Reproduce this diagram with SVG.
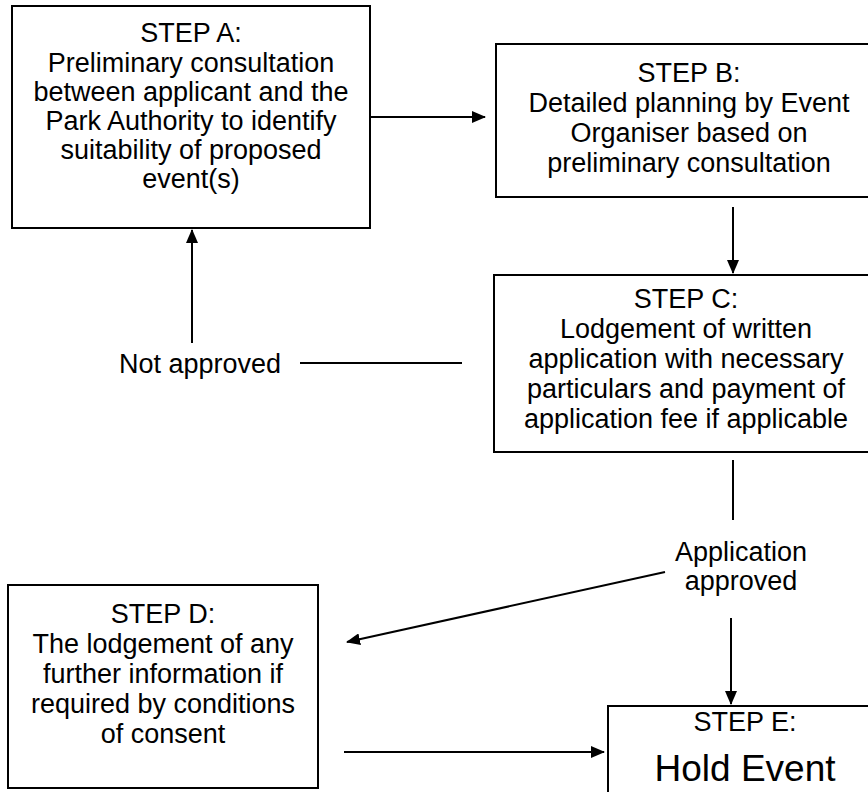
<svg xmlns="http://www.w3.org/2000/svg" width="868" height="792" viewBox="0 0 868 792">
<style>
.box{fill:#fff;stroke:#000;stroke-width:2}
.t{font-family:"Liberation Sans",Arial,sans-serif;font-size:27px;fill:#000;text-anchor:middle}
.big{font-size:37px}
.c{stroke:#000;stroke-width:2;fill:none}
</style>
<defs>
<marker id="ah" markerUnits="userSpaceOnUse" markerWidth="14" markerHeight="12" refX="13" refY="6" orient="auto">
<path d="M0,0 L14,6 L0,12 z" fill="#000"/>
</marker>
</defs>
<rect width="868" height="792" fill="#fff"/>
<g id="stepA">
<rect class="box" x="12" y="6" width="358" height="222"/>
<text class="t" x="191" y="42">STEP A:</text>
<text class="t" x="191" y="72">Preliminary consultation</text>
<text class="t" x="191" y="101">between applicant and the</text>
<text class="t" x="191" y="130">Park Authority to identify</text>
<text class="t" x="191" y="159">suitability of proposed</text>
<text class="t" x="191" y="188">event(s)</text>
</g>
<g id="stepB">
<rect class="box" x="496" y="44" width="390" height="153"/>
<text class="t" x="689" y="82">STEP B:</text>
<text class="t" x="689" y="112">Detailed planning by Event</text>
<text class="t" x="689" y="142">Organiser based on</text>
<text class="t" x="689" y="172">preliminary consultation</text>
</g>
<g id="stepC">
<rect class="box" x="494" y="275" width="392" height="177"/>
<text class="t" x="686" y="308">STEP C:</text>
<text class="t" x="686" y="338">Lodgement of written</text>
<text class="t" x="686" y="368">application with necessary</text>
<text class="t" x="686" y="398">particulars and payment of</text>
<text class="t" x="686" y="428">application fee if applicable</text>
</g>
<g id="stepD">
<rect class="box" x="8" y="585" width="310" height="203"/>
<text class="t" x="163" y="623">STEP D:</text>
<text class="t" x="163" y="653">The lodgement of any</text>
<text class="t" x="163" y="683">further information if</text>
<text class="t" x="163" y="713">required by conditions</text>
<text class="t" x="163" y="743">of consent</text>
</g>
<g id="stepE">
<rect class="box" x="608" y="706" width="280" height="100"/>
<text class="t" x="745" y="731">STEP E:</text>
<text class="t big" x="745" y="781">Hold Event</text>
</g>
<g id="labels">
<text class="t" x="281" y="373" style="text-anchor:end">Not approved</text>
<text class="t" x="741" y="561">Application</text>
<text class="t" x="741" y="590">approved</text>
</g>
<g id="connectors">
<line class="c" x1="370" y1="117" x2="485" y2="117" marker-end="url(#ah)"/>
<line class="c" x1="733" y1="207" x2="733" y2="273" marker-end="url(#ah)"/>
<line class="c" x1="300" y1="363" x2="462" y2="363"/>
<line class="c" x1="192" y1="343" x2="192" y2="230" marker-end="url(#ah)"/>
<line class="c" x1="733" y1="460" x2="733" y2="520"/>
<line class="c" x1="665" y1="572" x2="347" y2="642" marker-end="url(#ah)"/>
<line class="c" x1="731" y1="618" x2="731" y2="704" marker-end="url(#ah)"/>
<line class="c" x1="344" y1="752" x2="604" y2="752" marker-end="url(#ah)"/>
</g>
</svg>
